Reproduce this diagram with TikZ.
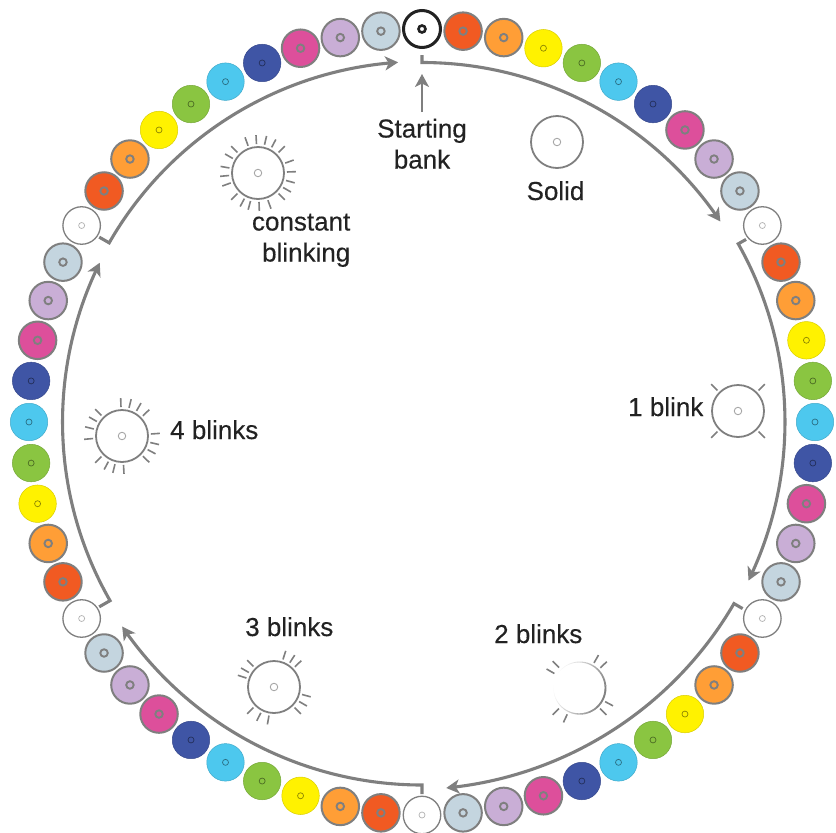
\documentclass[tikz,border=0pt]{standalone}
\usepackage{fontspec}
\usetikzlibrary{arrows.meta,bending}
\newfontfamily\lblfont[FakeBold=0.35]{Liberation Sans}
\definecolor{ln}{HTML}{7F7F7F}
\definecolor{ink}{HTML}{222222}
\definecolor{cOne}{HTML}{F15A22}
\definecolor{cTwo}{HTML}{FF9E36}
\definecolor{cThree}{HTML}{FFF200}
\definecolor{cFour}{HTML}{8AC541}
\definecolor{cFive}{HTML}{4DC8EE}
\definecolor{cSix}{HTML}{3F55A5}
\definecolor{cSeven}{HTML}{DD4F9B}
\definecolor{cEight}{HTML}{C9AED6}
\definecolor{cNine}{HTML}{C4D5DF}
\tikzset{
  x=1pt,y=1pt,
  bankbase/.style={circle,inner sep=0pt,minimum size=37.5pt},
  bankheavy/.style={bankbase,draw=ln,line width=2pt,fill=#1},
  banklight/.style={bankbase,draw=#1!85!black,line width=.5pt,fill=#1},
  dotbase/.style={circle,inner sep=0pt},
  dotheavy/.style={dotbase,draw=ln,line width=1.9pt,minimum size=7.5pt},
  dotlight/.style={dotbase,draw=#1!55!black,line width=.7pt,minimum size=6pt},
  bank0/.style={bankbase,draw=ln,line width=1.3pt,fill=white},
  bank1/.style={bankheavy=cOne}, bank2/.style={bankheavy=cTwo},
  bank3/.style={banklight=cThree}, bank4/.style={banklight=cFour},
  bank5/.style={banklight=cFive}, bank6/.style={banklight=cSix},
  bank7/.style={bankheavy=cSeven}, bank8/.style={bankheavy=cEight},
  bank9/.style={bankheavy=cNine},
  dot0/.style={dotbase,draw=black!30,line width=.7pt,minimum size=6pt},
  dot1/.style={dotheavy}, dot2/.style={dotheavy},
  dot3/.style={dotlight=cThree}, dot4/.style={dotlight=cFour},
  dot5/.style={dotlight=cFive}, dot6/.style={dotlight=cSix},
  dot7/.style={dotheavy}, dot8/.style={dotheavy}, dot9/.style={dotheavy},
  sweep/.style={draw=ln,line width=3.1pt,line join=miter,
    -{Stealth[length=13pt,width=14pt,inset=3.5pt,flex]}},
  lamp/.style={circle,inner sep=0pt,minimum size=52pt,draw=ln,line width=1.8pt},
  lampdot/.style={dotbase,draw=black!35,line width=.9pt,minimum size=7.5pt},
  ray/.style={draw=ln,line width=1.6pt},
  lbl/.style={inner sep=0pt,text=ink,font=\lblfont\fontsize{26pt}{31pt}\selectfont},
}
\begin{document}
\begin{tikzpicture}
\useasboundingbox (0,0) rectangle (836,-833);
% banks
\begin{scope}[shift={(422,-422)}]
  \foreach \k in {1,...,59}{
    \pgfmathtruncatemacro\i{mod(\k,10)}
    \node[bank\i] (b\k) at ({90-6*\k}:393) {};
    \node[dot\i] (d\k) at (b\k.center) {};
  }
  \node[circle,inner sep=0pt,minimum size=37pt,draw=ink,line width=3pt,fill=white] (b0) at (90:393) {};
  \node[circle,inner sep=0pt,minimum size=7pt,draw=ink,line width=2.6pt] (d0) at (b0.center) {};
  % sweeps
  \draw[sweep] (90:367) -- (90:359.5) arc[start angle=90,end angle=33.9,radius=359.5];
  \draw[sweep] ({90-60.6}:372) -- ({90-60.6}:363) arc[start angle=29.4,end angle=-25.9,radius=363];
  \draw[sweep] ({90-120.2}:371) -- ({90-120.2}:361) arc[start angle=-30.2,end angle=-84.5,radius=374.5];
  \draw[sweep] (-90:372) -- (-90:363) arc[start angle=-90,end angle=-145.7,radius=363];
  \draw[sweep] ({90-240.2}:372) -- ({90-240.2}:359.5) arc[start angle=-150.2,end angle=-206.3,radius=359.5];
  \draw[sweep] ({90-299.8}:372) -- ({90-299.8}:360.5) arc[start angle=-209.8,end angle=-266.2,radius=360.5];
\end{scope}
% lamps
\node[lamp] (solid) at (557,-142) {};
\node[lampdot] at (solid.center) {};
\node[lamp] (one) at (738,-411) {};
\node[lampdot] at (one.center) {};
\node[inner sep=0pt,minimum size=52pt,circle] (two) at (579.5,-688) {};
\node[lamp] (three) at (274,-687) {};
\node[lampdot] at (three.center) {};
\node[lamp] (four) at (122,-436) {};
\node[lampdot] at (four.center) {};
\node[lamp] (const) at (258,-173) {};
\node[lampdot] at (const.center) {};
% fading outline of the two-blink lamp
\begin{scope}[shift={(two.center)}]
  \foreach \a in {0,6,...,354}{
    \pgfmathtruncatemacro\p{100*(0.5+0.5*cos(\a-105))^1.1}
    \pgfmathsetmacro\w{0.4+1.5*(0.5+0.5*cos(\a-105))}
    \draw[draw=ln!\p!white,line width=\w pt] ({90-\a}:26) arc[start angle={90-\a},end angle={90-\a-6.5},radius=26];
  }
\end{scope}
% rays
\foreach \a in {45,135,225,315}
  \draw[ray,shift={(one.center)}] ({90-\a}:29) -- ({90-\a}:38);
\foreach \a in {30,46,118,135,205,225,300,315}
  \draw[ray,shift={(two.center)}] ({90-\a}:29) -- ({90-\a}:38);
\foreach \a in {18,33,46,105,120,135,190,207,225,288,300,315}
  \draw[ray,shift={(three.center)}] ({90-\a}:29) -- ({90-\a}:38);
\foreach \a in {-2,14,30,46,86,103,118,134,177,194,208,225,265,284,300,315}
  \draw[ray,shift={(four.center)}] ({90-\a}:29) -- ({90-\a}:38);
\foreach \a in {-3,13,28,45,70,88,105,120,135,160,178,195,208,225,250,265,280,300,315,340}
  \draw[ray,shift={(const.center)}] ({90-\a}:29) -- ({90-\a}:38);
% labels
\node[lbl,align=center,anchor=north] (starting) at (422,-118.5) {Starting\\bank};
\coordinate (startingtip) at (422,-74);
\draw[draw=ln,line width=2.8pt,-{Stealth[length=13pt,width=14pt,inset=3.5pt]}] (422,-112) -- (startingtip);
\node[lbl,anchor=base] (lsolid) at (555.5,-200) {Solid};
\node[lbl,align=right,anchor=north east] (lconst) at (350.5,-213.5) {constant\\blinking};
\node[lbl,anchor=base west] (lone) at (628,-416) {1 blink};
\node[lbl,anchor=base west] (lfour) at (170,-439) {4 blinks};
\node[lbl,anchor=base west] (lthree) at (245,-636) {3 blinks};
\node[lbl,anchor=base west] (ltwo) at (494,-643) {2 blinks};
\end{tikzpicture}
\end{document}
